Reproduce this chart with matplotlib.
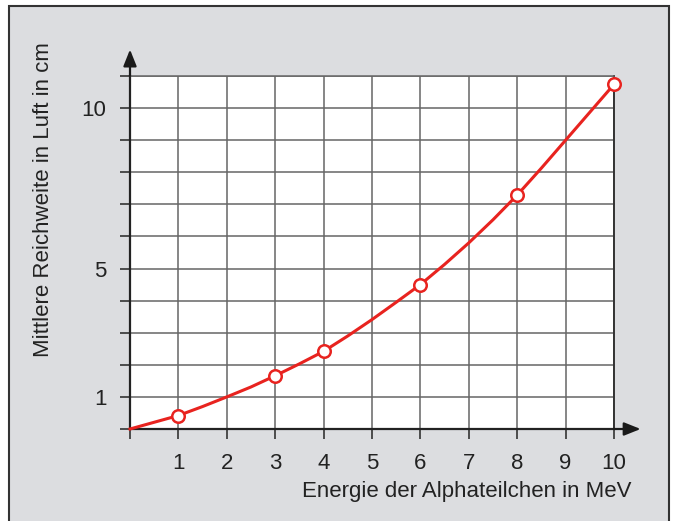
import matplotlib.pyplot as plt
from matplotlib.patches import Rectangle

plt.rcParams['font.family'] = ['Liberation Sans', 'DejaVu Sans']

# energy of the alpha particles (MeV) and mean range in air (cm)
energie_mess = [1, 3, 4, 6, 8, 10]
reichweite_mess = [0.42, 1.66, 2.42, 4.5, 7.29, 10.74]

# points
energie_kurve = [0, 0.5, 1, 1.5, 2, 2.5, 3, 3.5, 4, 4.5, 5,
                 5.5, 6, 6.5, 7, 7.5, 8, 8.5, 9, 9.5, 10]
reichweite_kurve = [0, 0.21, 0.42, 0.70, 1.0, 1.31, 1.66, 2.03, 2.42, 2.9, 3.41,
                    3.95, 4.5, 5.13, 5.8, 6.52, 7.29, 8.13, 9.0, 9.87, 10.74]

x_ticks = list(range(0, 11))
x_labels = ['' if t == 0 else str(t) for t in x_ticks]
y_ticks = list(range(0, 12))
y_labels = [str(t) if t in (1, 5, 10) else '' for t in y_ticks]

W, H = 673, 521
fig = plt.figure(figsize=(W / 100, H / 100), dpi=100, facecolor='white')

# grey panel with dark frame
fig.patches.append(Rectangle((9 / W, -0.05), 660 / W, 1.05 - 6 / H,
                             transform=fig.transFigure, facecolor='#dcdde0',
                             edgecolor='#333333', linewidth=1.5, zorder=-5))

ax = fig.add_axes([130 / W, (H - 429) / H, 484 / W, 353 / H])
ax.set_zorder(2)
ax.set_facecolor('white')
ax.set_xlim(0, 10)
ax.set_ylim(0, 11)

ax.set_xticks(x_ticks)
ax.set_xticklabels(x_labels)
ax.set_yticks(y_ticks)
ax.set_yticklabels(y_labels)
ax.tick_params(axis='both', direction='out', length=7, width=1.2,
               color='#333333', labelsize=16, labelcolor='#222222')
ax.tick_params(axis='x', pad=10)
ax.tick_params(axis='y', pad=10)
ax.grid(True, color='#666666', linewidth=1.1)
ax.set_axisbelow(True)

for side in ['left', 'bottom']:
    ax.spines[side].set_color('#222222')
    ax.spines[side].set_linewidth(1.6)
ax.spines['right'].set_color('#333333')
ax.spines['right'].set_linewidth(1.4)
ax.spines['top'].set_color('#666666')
ax.spines['top'].set_linewidth(1.1)

# axis arrows
ax.annotate('', xy=(0, 1.075), xytext=(0, 1.0), xycoords='axes fraction',
            arrowprops=dict(arrowstyle='-|>,head_length=1.0,head_width=0.4',
                            color='#1a1a1a', lw=1.6, shrinkA=0, shrinkB=0))
ax.annotate('', xy=(1.055, 0), xytext=(1.0, 0), xycoords='axes fraction',
            arrowprops=dict(arrowstyle='-|>,head_length=1.0,head_width=0.4',
                            color='#1a1a1a', lw=1.6, shrinkA=0, shrinkB=0))

ax.plot(energie_kurve, reichweite_kurve, color='#e8231f', linewidth=2.2,
        clip_on=False, zorder=3)
ax.plot(energie_mess, reichweite_mess, 'o', markersize=9,
        markerfacecolor='white', markeredgecolor='#e8231f',
        markeredgewidth=1.8, clip_on=False, zorder=4)

fig.text(632 / W, 1 - 492 / H, 'Energie der Alphateilchen in MeV',
         ha='right', va='center', fontsize=16, color='#222222')
fig.text(44 / W, 1 - 200 / H, 'Mittlere Reichweite in Luft in cm',
         ha='center', va='center', rotation=90, fontsize=16, color='#222222')

fig.savefig('out.png', dpi=100, facecolor=fig.get_facecolor())
